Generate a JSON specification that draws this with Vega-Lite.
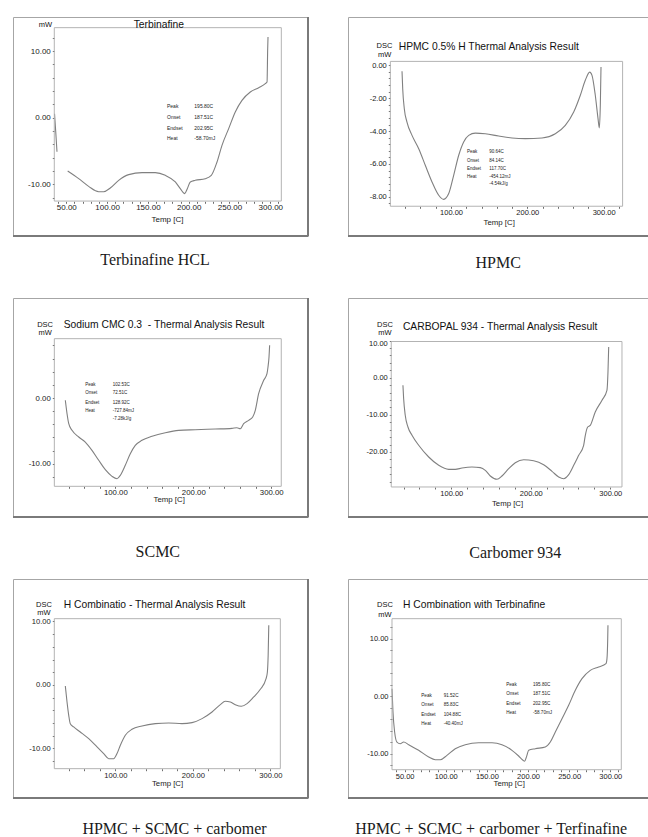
{
  "$schema": "https://vega.github.io/schema/vega-lite/v6.json",
  "background": "white",
  "padding": {"left": 11, "top": 15, "right": 0, "bottom": 0},
  "columns": 2,
  "spacing": {"row": 62, "column": 40},
  "bounds": "flush",
  "align": "each",
  "datasets": {
    "c1": [
      {"s": "a", "t": 35.6, "v": 0.6}, {"s": "a", "t": 37.0, "v": -2.0}, {"s": "a", "t": 38.6, "v": -5.1},
      {"s": "b", "t": 51.7, "v": -8.0}, {"s": "b", "t": 65.2, "v": -9.14}, {"s": "b", "t": 77.4, "v": -10.3},
      {"s": "b", "t": 89.7, "v": -11.1}, {"s": "b", "t": 95.8, "v": -11.1}, {"s": "b", "t": 103.9, "v": -10.54},
      {"s": "b", "t": 114.2, "v": -9.39}, {"s": "b", "t": 126.5, "v": -8.54}, {"s": "b", "t": 142.8, "v": -8.24},
      {"s": "b", "t": 159.1, "v": -8.24}, {"s": "b", "t": 171.3, "v": -8.64}, {"s": "b", "t": 183.6, "v": -9.64},
      {"s": "b", "t": 189.7, "v": -10.64}, {"s": "b", "t": 195.1, "v": -11.39}, {"s": "b", "t": 198.3, "v": -10.64},
      {"s": "b", "t": 202.0, "v": -9.64}, {"s": "b", "t": 208.1, "v": -9.39}, {"s": "b", "t": 220.3, "v": -9.14},
      {"s": "b", "t": 227.7, "v": -8.64}, {"s": "b", "t": 234.7, "v": -6.64}, {"s": "b", "t": 240.8, "v": -4.14},
      {"s": "b", "t": 249.0, "v": -1.64}, {"s": "b", "t": 257.1, "v": 0.86}, {"s": "b", "t": 265.3, "v": 2.6},
      {"s": "b", "t": 275.5, "v": 3.86}, {"s": "b", "t": 285.8, "v": 4.5}, {"s": "b", "t": 293.9, "v": 5.1},
      {"s": "b", "t": 296.0, "v": 5.35}, {"s": "b", "t": 296.8, "v": 10.35}, {"s": "b", "t": 297.2, "v": 12.1}
    ],
    "c2": [
      {"t": 35.8, "v": -0.36}, {"t": 36.7, "v": -1.42}, {"t": 38.8, "v": -2.64}, {"t": 42.3, "v": -3.45},
      {"t": 48.9, "v": -4.26}, {"t": 57.7, "v": -5.07}, {"t": 66.3, "v": -6.08}, {"t": 75.1, "v": -7.09},
      {"t": 83.9, "v": -7.9}, {"t": 90.4, "v": -8.15}, {"t": 97.0, "v": -7.8}, {"t": 103.5, "v": -6.69},
      {"t": 110.1, "v": -5.47}, {"t": 116.6, "v": -4.66}, {"t": 123.2, "v": -4.26}, {"t": 131.9, "v": -4.12},
      {"t": 145.0, "v": -4.16}, {"t": 162.5, "v": -4.3}, {"t": 180.0, "v": -4.42}, {"t": 197.4, "v": -4.46},
      {"t": 219.3, "v": -4.42}, {"t": 236.7, "v": -4.16}, {"t": 249.8, "v": -3.65}, {"t": 260.8, "v": -2.84},
      {"t": 269.5, "v": -1.82}, {"t": 276.0, "v": -0.91}, {"t": 281.8, "v": -0.41}, {"t": 284.8, "v": -0.61},
      {"t": 289.1, "v": -1.82}, {"t": 292.7, "v": -3.24}, {"t": 294.4, "v": -3.81}, {"t": 295.7, "v": -2.43},
      {"t": 296.6, "v": -0.1}
    ],
    "c3": [
      {"t": 35.9, "v": -0.35}, {"t": 38.1, "v": -2.39}, {"t": 40.3, "v": -3.91}, {"t": 44.5, "v": -4.92},
      {"t": 53.1, "v": -5.94}, {"t": 61.5, "v": -6.7}, {"t": 70.1, "v": -7.96}, {"t": 78.7, "v": -9.48},
      {"t": 87.2, "v": -10.91}, {"t": 95.8, "v": -11.92}, {"t": 102.2, "v": -12.28}, {"t": 106.4, "v": -11.77},
      {"t": 112.8, "v": -10.24}, {"t": 119.2, "v": -8.48}, {"t": 125.6, "v": -7.2}, {"t": 134.2, "v": -6.44},
      {"t": 147.1, "v": -5.83}, {"t": 164.1, "v": -5.28}, {"t": 181.3, "v": -4.92}, {"t": 202.6, "v": -4.82},
      {"t": 228.2, "v": -4.72}, {"t": 249.6, "v": -4.62}, {"t": 256.0, "v": -4.52}, {"t": 260.3, "v": -4.67},
      {"t": 264.6, "v": -3.91}, {"t": 271.0, "v": -3.4}, {"t": 276.2, "v": -2.89}, {"t": 279.5, "v": -1.88},
      {"t": 283.8, "v": 0.65}, {"t": 290.3, "v": 2.69}, {"t": 294.5, "v": 3.7}, {"t": 295.8, "v": 4.72},
      {"t": 297.1, "v": 6.24}, {"t": 297.9, "v": 8.02}
    ],
    "c4": [
      {"t": 39.2, "v": -2.05}, {"t": 40.1, "v": -5.65}, {"t": 42.1, "v": -10.12}, {"t": 45.5, "v": -13.27},
      {"t": 50.6, "v": -15.5}, {"t": 59.0, "v": -18.2}, {"t": 71.6, "v": -21.35}, {"t": 84.2, "v": -23.59},
      {"t": 96.7, "v": -24.67}, {"t": 105.0, "v": -24.67}, {"t": 113.5, "v": -24.31}, {"t": 126.0, "v": -24.04},
      {"t": 136.5, "v": -24.22}, {"t": 142.8, "v": -24.93}, {"t": 149.1, "v": -26.46}, {"t": 157.5, "v": -27.35},
      {"t": 163.8, "v": -26.46}, {"t": 172.2, "v": -24.49}, {"t": 180.5, "v": -22.88}, {"t": 191.1, "v": -22.07},
      {"t": 203.6, "v": -22.34}, {"t": 216.2, "v": -23.42}, {"t": 226.7, "v": -25.2}, {"t": 235.1, "v": -26.73},
      {"t": 241.4, "v": -27.19}, {"t": 247.7, "v": -26.11}, {"t": 254.0, "v": -23.59}, {"t": 260.3, "v": -20.89},
      {"t": 266.5, "v": -18.2}, {"t": 268.6, "v": -15.5}, {"t": 271.6, "v": -13.27}, {"t": 274.8, "v": -12.82},
      {"t": 281.1, "v": -9.23}, {"t": 289.6, "v": -6.08}, {"t": 295.8, "v": -3.39}, {"t": 297.1, "v": 1.53},
      {"t": 298.0, "v": 8.26}
    ],
    "c5": [
      {"t": 35.5, "v": -0.16}, {"t": 37.7, "v": -2.68}, {"t": 39.9, "v": -4.78}, {"t": 41.9, "v": -6.09},
      {"t": 46.3, "v": -6.61}, {"t": 54.8, "v": -7.4}, {"t": 65.7, "v": -8.46}, {"t": 76.4, "v": -9.76},
      {"t": 85.0, "v": -10.81}, {"t": 91.5, "v": -11.61}, {"t": 97.9, "v": -11.61}, {"t": 102.2, "v": -10.81},
      {"t": 106.5, "v": -9.5}, {"t": 112.9, "v": -7.92}, {"t": 121.5, "v": -6.98}, {"t": 134.5, "v": -6.46},
      {"t": 151.6, "v": -6.09}, {"t": 168.9, "v": -5.98}, {"t": 186.0, "v": -6.09}, {"t": 199.0, "v": -5.93},
      {"t": 211.9, "v": -5.3}, {"t": 224.8, "v": -4.25}, {"t": 235.5, "v": -3.1}, {"t": 241.9, "v": -2.57},
      {"t": 248.4, "v": -2.68}, {"t": 254.8, "v": -3.1}, {"t": 262.6, "v": -3.36}, {"t": 270.0, "v": -2.94},
      {"t": 278.6, "v": -1.89}, {"t": 287.1, "v": -0.68}, {"t": 294.5, "v": 0.99}, {"t": 296.2, "v": 2.05},
      {"t": 297.2, "v": 4.67}, {"t": 298.0, "v": 9.4}
    ],
    "c6": [
      {"t": 34.6, "v": 1.3}, {"t": 35.8, "v": -2.75}, {"t": 37.8, "v": -6.23}, {"t": 40.6, "v": -7.97},
      {"t": 44.6, "v": -8.26}, {"t": 48.8, "v": -7.97}, {"t": 54.9, "v": -8.43}, {"t": 67.0, "v": -9.41},
      {"t": 79.2, "v": -10.57}, {"t": 87.2, "v": -11.04}, {"t": 93.3, "v": -11.04}, {"t": 101.4, "v": -10.28},
      {"t": 111.5, "v": -9.13}, {"t": 123.7, "v": -8.43}, {"t": 140.0, "v": -8.09}, {"t": 156.2, "v": -8.09},
      {"t": 168.3, "v": -8.43}, {"t": 180.5, "v": -9.41}, {"t": 188.6, "v": -10.4}, {"t": 193.5, "v": -11.1},
      {"t": 195.8, "v": -11.3}, {"t": 198.2, "v": -10.5}, {"t": 200.8, "v": -9.41}, {"t": 208.8, "v": -9.13},
      {"t": 221.0, "v": -8.83}, {"t": 227.1, "v": -7.97}, {"t": 233.2, "v": -6.23}, {"t": 241.3, "v": -3.91},
      {"t": 249.4, "v": -1.58}, {"t": 257.5, "v": 1.03}, {"t": 265.6, "v": 3.05}, {"t": 275.7, "v": 4.5},
      {"t": 285.9, "v": 5.08}, {"t": 294.8, "v": 5.66}, {"t": 296.0, "v": 6.53}, {"t": 296.9, "v": 10.0},
      {"t": 297.2, "v": 12.33}
    ],
    "txt": [
      {"p": 1, "k": "title", "t": 132.6, "v": 13.4, "text": "Terbinafine"},
      {"p": 1, "k": "unit", "t": 24.3, "v": 13.94, "text": "mW"},
      {"p": 1, "k": "note", "t": 173.4, "v": 1.71, "text": "Peak"},
      {"p": 1, "k": "note", "t": 173.4, "v": 0.1, "text": "Onset"},
      {"p": 1, "k": "note", "t": 173.4, "v": -1.5, "text": "Endset"},
      {"p": 1, "k": "note", "t": 173.4, "v": -3.04, "text": "Heat"},
      {"p": 1, "k": "note", "t": 206.9, "v": 1.71, "text": "195.80C"},
      {"p": 1, "k": "note", "t": 206.9, "v": 0.1, "text": "187.51C"},
      {"p": 1, "k": "note", "t": 206.9, "v": -1.5, "text": "202.95C"},
      {"p": 1, "k": "note", "t": 206.9, "v": -3.04, "text": "-58.70mJ"},
      {"p": 1, "k": "cap", "t": 158.7, "v": -22.08, "text": "Terbinafine HCL"},

      {"p": 2, "k": "title", "t": 31.5, "v": 0.91, "text": "HPMC 0.5% H Thermal Analysis Result"},
      {"p": 2, "k": "unit", "t": 12.8, "v": 1.17, "text": "DSC"},
      {"p": 2, "k": "unit", "t": 13.1, "v": 0.64, "text": "mW"},
      {"p": 2, "k": "note", "t": 121.0, "v": -5.27, "text": "Peak"},
      {"p": 2, "k": "note", "t": 121.0, "v": -5.8, "text": "Onset"},
      {"p": 2, "k": "note", "t": 121.0, "v": -6.29, "text": "Endset"},
      {"p": 2, "k": "note", "t": 121.0, "v": -6.79, "text": "Heat"},
      {"p": 2, "k": "note", "t": 150.2, "v": -5.27, "text": "90.64C"},
      {"p": 2, "k": "note", "t": 150.2, "v": -5.8, "text": "84.14C"},
      {"p": 2, "k": "note", "t": 150.2, "v": -6.29, "text": "117.70C"},
      {"p": 2, "k": "note", "t": 150.2, "v": -6.79, "text": "-454.12mJ"},
      {"p": 2, "k": "note", "t": 150.2, "v": -7.23, "text": "-4.54kJ/g"},
      {"p": 2, "k": "cap", "t": 161.9, "v": -12.3, "text": "HPMC"},

      {"p": 3, "k": "title", "t": 33.8, "v": 10.65, "text": "Sodium CMC 0.3 \u00a0- Thermal Analysis Result"},
      {"p": 3, "k": "unit", "t": 9.9, "v": 11.16, "text": "DSC"},
      {"p": 3, "k": "unit", "t": 9.9, "v": 9.89, "text": "mW"},
      {"p": 3, "k": "note", "t": 61.5, "v": 2.02, "text": "Peak"},
      {"p": 3, "k": "note", "t": 61.5, "v": 0.81, "text": "Onset"},
      {"p": 3, "k": "note", "t": 61.5, "v": -0.72, "text": "Endset"},
      {"p": 3, "k": "note", "t": 61.5, "v": -2.02, "text": "Heat"},
      {"p": 3, "k": "note", "t": 96.7, "v": 2.02, "text": "102.53C"},
      {"p": 3, "k": "note", "t": 96.7, "v": 0.81, "text": "72.51C"},
      {"p": 3, "k": "note", "t": 96.7, "v": -0.72, "text": "128.92C"},
      {"p": 3, "k": "note", "t": 96.7, "v": -2.02, "text": "-727.84mJ"},
      {"p": 3, "k": "note", "t": 96.7, "v": -3.15, "text": "-7.28kJ/g"},
      {"p": 3, "k": "cap", "t": 154.5, "v": -24.2, "text": "SCMC"},

      {"p": 4, "k": "title", "t": 39.2, "v": 12.92, "text": "CARBOPAL 934 - Thermal Analysis Result"},
      {"p": 4, "k": "unit", "t": 16.6, "v": 14.1, "text": "DSC"},
      {"p": 4, "k": "unit", "t": 16.6, "v": 11.9, "text": "mW"},
      {"p": 4, "k": "cap", "t": 180.5, "v": -48.6, "text": "Carbomer 934"},

      {"p": 5, "k": "title", "t": 33.4, "v": 12.13, "text": "H Combinatio - Thermal Analysis Result"},
      {"p": 5, "k": "unit", "t": 8.0, "v": 12.55, "text": "DSC"},
      {"p": 5, "k": "unit", "t": 8.0, "v": 11.39, "text": "mW"},
      {"p": 5, "k": "cap", "t": 176.4, "v": -23.4, "text": "HPMC + SCMC + carbomer"},

      {"p": 6, "k": "title", "t": 47.9, "v": 15.34, "text": "H Combination with Terbinafine"},
      {"p": 6, "k": "unit", "t": 26.0, "v": 15.9, "text": "DSC"},
      {"p": 6, "k": "unit", "t": 26.0, "v": 14.17, "text": "mW"},
      {"p": 6, "k": "note", "t": 70.2, "v": -0.02, "text": "Peak"},
      {"p": 6, "k": "note", "t": 70.2, "v": -1.58, "text": "Onset"},
      {"p": 6, "k": "note", "t": 70.2, "v": -3.22, "text": "Endset"},
      {"p": 6, "k": "note", "t": 70.2, "v": -4.78, "text": "Heat"},
      {"p": 6, "k": "note", "t": 97.4, "v": -0.02, "text": "91.52C"},
      {"p": 6, "k": "note", "t": 97.4, "v": -1.58, "text": "85.83C"},
      {"p": 6, "k": "note", "t": 97.4, "v": -3.22, "text": "104.88C"},
      {"p": 6, "k": "note", "t": 97.4, "v": -4.78, "text": "-40.40mJ"},
      {"p": 6, "k": "note", "t": 173.5, "v": 1.9, "text": "Peak"},
      {"p": 6, "k": "note", "t": 173.5, "v": 0.33, "text": "Onset"},
      {"p": 6, "k": "note", "t": 173.5, "v": -1.3, "text": "Endset"},
      {"p": 6, "k": "note", "t": 173.5, "v": -2.87, "text": "Heat"},
      {"p": 6, "k": "note", "t": 206.0, "v": 1.9, "text": "195.80C"},
      {"p": 6, "k": "note", "t": 206.0, "v": 0.33, "text": "187.51C"},
      {"p": 6, "k": "note", "t": 206.0, "v": -1.3, "text": "202.95C"},
      {"p": 6, "k": "note", "t": 206.0, "v": -2.87, "text": "-58.70mJ"},
      {"p": 6, "k": "cap", "t": 155.2, "v": -23.9, "text": "HPMC + SCMC + carbomer + Terfinafine"}
    ]
  },
  "concat": [
    {
      "width": 295, "height": 219,
      "layer": [
        {"data": {"name": "c1"}, "mark": {"type": "line", "interpolate": "monotone", "stroke": "#808080", "strokeWidth": 1.1},
         "encoding": {
           "x": {"field": "t", "type": "quantitative", "scale": {"domain": [-15.3, 346.2], "nice": false, "zero": false},
                 "axis": {"values": [40, 50, 60, 70, 80, 90, 100, 110, 120, 130, 140, 150, 160, 170, 180, 190, 200, 210, 220, 230, 240, 250, 260, 270, 280, 290, 300, 310],
                          "tickCount": 200, "labelExpr": "datum.value % 50 == 0 ? format(datum.value, '.2f') : ''", "labelOverlap": false, "offset": -34.7, "labelFontSize": 8, "title": "Temp [C]", "titleFontSize": 8, "titleX": 154, "titleY": 18.4}},
           "y": {"field": "v", "type": "quantitative", "scale": {"domain": [-17.74, 15.1], "nice": false, "zero": false},
                 "axis": {"values": [-12, -10, -8, -6, -4, -2, 0, 2, 4, 6, 8, 10, 12],
                          "tickCount": 200, "labelExpr": "datum.value % 10 == 0 ? (datum.value < 0 ? '-' : '') + format(abs(datum.value), '.2f') : ''", "labelOverlap": false, "offset": -41.3, "labelFontSize": 8, "title": null}},
           "detail": {"field": "s"}}},
        {"data": {"values": [{}]}, "mark": {"type": "rect", "fill": "transparent", "stroke": "#b3b3b3", "strokeWidth": 1},
         "encoding": {"x": {"datum": 35.3, "type": "quantitative"}, "x2": {"datum": 313.5}, "y": {"datum": -12.5, "type": "quantitative"}, "y2": {"datum": 13.5}}},
        {"data": {"values": [{}]}, "mark": {"type": "rule", "stroke": "#7a7a7a", "strokeWidth": 2},
         "encoding": {"x": {"datum": 346.2, "type": "quantitative"}, "y": {"datum": -17.74, "type": "quantitative"}, "y2": {"datum": 15.1}}},
        {"data": {"values": [{}]}, "mark": {"type": "rule", "stroke": "#7a7a7a", "strokeWidth": 2},
         "encoding": {"x": {"datum": -15.3, "type": "quantitative"}, "x2": {"datum": 346.2}, "y": {"datum": -17.74, "type": "quantitative"}}},
        {"data": {"name": "txt"}, "transform": [{"filter": "datum.p == 1 && datum.k == 'title'"}],
         "mark": {"type": "text", "align": "left", "baseline": "alphabetic", "fontSize": 10.3, "fill": "#111111"},
         "encoding": {"x": {"field": "t", "type": "quantitative"}, "y": {"field": "v", "type": "quantitative"}, "text": {"field": "text"}}},
        {"data": {"name": "txt"}, "transform": [{"filter": "datum.p == 1 && datum.k == 'unit'"}],
         "mark": {"type": "text", "align": "center", "baseline": "middle", "fontSize": 7.5, "fill": "#111111"},
         "encoding": {"x": {"field": "t", "type": "quantitative"}, "y": {"field": "v", "type": "quantitative"}, "text": {"field": "text"}}},
        {"data": {"name": "txt"}, "transform": [{"filter": "datum.p == 1 && datum.k == 'note'"}],
         "mark": {"type": "text", "align": "left", "baseline": "middle", "fontSize": 5, "fill": "#222222"},
         "encoding": {"x": {"field": "t", "type": "quantitative"}, "y": {"field": "v", "type": "quantitative"}, "text": {"field": "text"}}},
        {"data": {"name": "txt"}, "transform": [{"filter": "datum.p == 1 && datum.k == 'cap'"}],
         "mark": {"type": "text", "align": "center", "baseline": "alphabetic", "fontSize": 16, "font": "Liberation Serif", "fill": "#1a1a1a"},
         "encoding": {"x": {"field": "t", "type": "quantitative"}, "y": {"field": "v", "type": "quantitative"}, "text": {"field": "text"}}}
      ]
    },
    {
      "width": 301, "height": 219,
      "layer": [
        {"data": {"name": "c2"}, "mark": {"type": "line", "interpolate": "monotone", "stroke": "#808080", "strokeWidth": 1.1},
         "encoding": {
           "x": {"field": "t", "type": "quantitative", "scale": {"domain": [-35.0, 359.5], "nice": false, "zero": false},
                 "axis": {"values": [40, 60, 80, 100, 120, 140, 160, 180, 200, 220, 240, 260, 280, 300, 320],
                          "tickCount": 200, "labelExpr": "datum.value % 100 == 0 ? format(datum.value, '.2f') : ''", "labelOverlap": false, "offset": -29.7, "labelFontSize": 7.5, "title": "Temp [C]", "titleFontSize": 7.8, "titleX": 150.7, "titleY": 15.7}},
           "y": {"field": "v", "type": "quantitative", "scale": {"domain": [-10.38, 2.94], "nice": false, "zero": false},
                 "axis": {"values": [-8.4, -8, -7.6, -7.2, -6.8, -6.4, -6, -5.6, -5.2, -4.8, -4.4, -4, -3.6, -3.2, -2.8, -2.4, -2, -1.6, -1.2, -0.8, -0.4, 0],
                          "tickCount": 200, "labelExpr": "datum.value % 2 == 0 ? (datum.value < 0 ? '-' : '') + format(abs(datum.value), '.2f') : ''", "labelOverlap": false, "offset": -42.3, "labelFontSize": 7.5, "title": null}}}},
        {"data": {"values": [{}]}, "mark": {"type": "rect", "fill": "transparent", "stroke": "#b3b3b3", "strokeWidth": 1},
         "encoding": {"x": {"datum": 20.5, "type": "quantitative"}, "x2": {"datum": 324.9}, "y": {"datum": -8.57, "type": "quantitative"}, "y2": {"datum": 0.24}}},
        {"data": {"values": [{}]}, "mark": {"type": "rule", "stroke": "#7a7a7a", "strokeWidth": 2},
         "encoding": {"x": {"datum": -35.0, "type": "quantitative"}, "x2": {"datum": 359.5}, "y": {"datum": -10.38, "type": "quantitative"}}},
        {"data": {"name": "txt"}, "transform": [{"filter": "datum.p == 2 && datum.k == 'title'"}],
         "mark": {"type": "text", "align": "left", "baseline": "alphabetic", "fontSize": 10.3, "fill": "#111111"},
         "encoding": {"x": {"field": "t", "type": "quantitative"}, "y": {"field": "v", "type": "quantitative"}, "text": {"field": "text"}}},
        {"data": {"name": "txt"}, "transform": [{"filter": "datum.p == 2 && datum.k == 'unit'"}],
         "mark": {"type": "text", "align": "center", "baseline": "middle", "fontSize": 7.5, "fill": "#111111"},
         "encoding": {"x": {"field": "t", "type": "quantitative"}, "y": {"field": "v", "type": "quantitative"}, "text": {"field": "text"}}},
        {"data": {"name": "txt"}, "transform": [{"filter": "datum.p == 2 && datum.k == 'note'"}],
         "mark": {"type": "text", "align": "left", "baseline": "middle", "fontSize": 4.5, "fill": "#222222"},
         "encoding": {"x": {"field": "t", "type": "quantitative"}, "y": {"field": "v", "type": "quantitative"}, "text": {"field": "text"}}},
        {"data": {"name": "txt"}, "transform": [{"filter": "datum.p == 2 && datum.k == 'cap'"}],
         "mark": {"type": "text", "align": "center", "baseline": "alphabetic", "fontSize": 16, "font": "Liberation Serif", "fill": "#1a1a1a"},
         "encoding": {"x": {"field": "t", "type": "quantitative"}, "y": {"field": "v", "type": "quantitative"}, "text": {"field": "text"}}}
      ]
    },
    {
      "width": 295, "height": 219,
      "layer": [
        {"data": {"name": "c3"}, "mark": {"type": "line", "interpolate": "monotone", "stroke": "#808080", "strokeWidth": 1.1},
         "encoding": {
           "x": {"field": "t", "type": "quantitative", "scale": {"domain": [-31.2, 347.1], "nice": false, "zero": false},
                 "axis": {"values": [40, 60, 80, 100, 120, 140, 160, 180, 200, 220, 240, 260, 280, 300],
                          "tickCount": 200, "labelExpr": "datum.value % 100 == 0 ? format(datum.value, '.2f') : ''", "labelOverlap": false, "offset": -30.7, "labelFontSize": 7.8, "title": "Temp [C]", "titleFontSize": 7.8, "titleX": 155.7, "titleY": 13.5}},
           "y": {"field": "v", "type": "quantitative", "scale": {"domain": [-18.11, 15.22], "nice": false, "zero": false},
                 "axis": {"values": [-12, -10, -8, -6, -4, -2, 0, 2, 4, 6, 8],
                          "tickCount": 200, "labelExpr": "datum.value % 10 == 0 ? (datum.value < 0 ? '-' : '') + format(abs(datum.value), '.2f') : ''", "labelOverlap": false, "offset": -41.3, "labelFontSize": 7.8, "title": null}}}},
        {"data": {"values": [{}]}, "mark": {"type": "rect", "fill": "transparent", "stroke": "#b3b3b3", "strokeWidth": 1},
         "encoding": {"x": {"datum": 21.8, "type": "quantitative"}, "x2": {"datum": 312.8}, "y": {"datum": -13.44, "type": "quantitative"}, "y2": {"datum": 9.03}}},
        {"data": {"values": [{}]}, "mark": {"type": "rule", "stroke": "#7a7a7a", "strokeWidth": 2},
         "encoding": {"x": {"datum": 347.1, "type": "quantitative"}, "y": {"datum": -18.11, "type": "quantitative"}, "y2": {"datum": 15.22}}},
        {"data": {"values": [{}]}, "mark": {"type": "rule", "stroke": "#7a7a7a", "strokeWidth": 2},
         "encoding": {"x": {"datum": -31.2, "type": "quantitative"}, "x2": {"datum": 347.1}, "y": {"datum": -18.11, "type": "quantitative"}}},
        {"data": {"name": "txt"}, "transform": [{"filter": "datum.p == 3 && datum.k == 'title'"}],
         "mark": {"type": "text", "align": "left", "baseline": "alphabetic", "fontSize": 10.3, "fill": "#111111"},
         "encoding": {"x": {"field": "t", "type": "quantitative"}, "y": {"field": "v", "type": "quantitative"}, "text": {"field": "text"}}},
        {"data": {"name": "txt"}, "transform": [{"filter": "datum.p == 3 && datum.k == 'unit'"}],
         "mark": {"type": "text", "align": "center", "baseline": "middle", "fontSize": 7.5, "fill": "#111111"},
         "encoding": {"x": {"field": "t", "type": "quantitative"}, "y": {"field": "v", "type": "quantitative"}, "text": {"field": "text"}}},
        {"data": {"name": "txt"}, "transform": [{"filter": "datum.p == 3 && datum.k == 'note'"}],
         "mark": {"type": "text", "align": "left", "baseline": "middle", "fontSize": 4.5, "fill": "#222222"},
         "encoding": {"x": {"field": "t", "type": "quantitative"}, "y": {"field": "v", "type": "quantitative"}, "text": {"field": "text"}}},
        {"data": {"name": "txt"}, "transform": [{"filter": "datum.p == 3 && datum.k == 'cap'"}],
         "mark": {"type": "text", "align": "center", "baseline": "alphabetic", "fontSize": 16, "font": "Liberation Serif", "fill": "#1a1a1a"},
         "encoding": {"x": {"field": "t", "type": "quantitative"}, "y": {"field": "v", "type": "quantitative"}, "text": {"field": "text"}}}
      ]
    },
    {
      "width": 301, "height": 219,
      "layer": [
        {"data": {"name": "c4"}, "mark": {"type": "line", "interpolate": "monotone", "stroke": "#808080", "strokeWidth": 1.1},
         "encoding": {
           "x": {"field": "t", "type": "quantitative", "scale": {"domain": [-29.9, 348.7], "nice": false, "zero": false},
                 "axis": {"values": [40, 60, 80, 100, 120, 140, 160, 180, 200, 220, 240, 260, 280, 300],
                          "tickCount": 200, "labelExpr": "datum.value % 100 == 0 ? format(datum.value, '.2f') : ''", "labelOverlap": false, "offset": -30, "labelFontSize": 7.5, "title": "Temp [C]", "titleFontSize": 7.8, "titleX": 159, "titleY": 16}},
           "y": {"field": "v", "type": "quantitative", "scale": {"domain": [-37.5, 21.45], "nice": false, "zero": false},
                 "axis": {"values": [-28, -26, -24, -22, -20, -18, -16, -14, -12, -10, -8, -6, -4, -2, 0, 2, 4, 6, 8, 10],
                          "tickCount": 200, "labelExpr": "datum.value % 10 == 0 ? (datum.value < 0 ? '-' : '') + format(abs(datum.value), '.2f') : ''",
                          "labelOffset": {"condition": {"test": "datum.value == 10", "value": 3}, "value": 0},
                          "labelOverlap": false, "offset": -43.3, "labelFontSize": 7.5, "title": null}}}},
        {"data": {"values": [{}]}, "mark": {"type": "rect", "fill": "transparent", "stroke": "#b3b3b3", "strokeWidth": 1},
         "encoding": {"x": {"datum": 24.5, "type": "quantitative"}, "x2": {"datum": 314.7}, "y": {"datum": -29.42, "type": "quantitative"}, "y2": {"datum": 9.74}}},
        {"data": {"values": [{}]}, "mark": {"type": "rule", "stroke": "#7a7a7a", "strokeWidth": 2},
         "encoding": {"x": {"datum": -29.9, "type": "quantitative"}, "x2": {"datum": 348.7}, "y": {"datum": -37.5, "type": "quantitative"}}},
        {"data": {"name": "txt"}, "transform": [{"filter": "datum.p == 4 && datum.k == 'title'"}],
         "mark": {"type": "text", "align": "left", "baseline": "alphabetic", "fontSize": 10.3, "fill": "#111111"},
         "encoding": {"x": {"field": "t", "type": "quantitative"}, "y": {"field": "v", "type": "quantitative"}, "text": {"field": "text"}}},
        {"data": {"name": "txt"}, "transform": [{"filter": "datum.p == 4 && datum.k == 'unit'"}],
         "mark": {"type": "text", "align": "center", "baseline": "middle", "fontSize": 7.5, "fill": "#111111"},
         "encoding": {"x": {"field": "t", "type": "quantitative"}, "y": {"field": "v", "type": "quantitative"}, "text": {"field": "text"}}},
        {"data": {"name": "txt"}, "transform": [{"filter": "datum.p == 4 && datum.k == 'cap'"}],
         "mark": {"type": "text", "align": "center", "baseline": "alphabetic", "fontSize": 16, "font": "Liberation Serif", "fill": "#1a1a1a"},
         "encoding": {"x": {"field": "t", "type": "quantitative"}, "y": {"field": "v", "type": "quantitative"}, "text": {"field": "text"}}}
      ]
    },
    {
      "width": 295, "height": 219,
      "layer": [
        {"data": {"name": "c5"}, "mark": {"type": "line", "interpolate": "monotone", "stroke": "#808080", "strokeWidth": 1.1},
         "encoding": {
           "x": {"field": "t", "type": "quantitative", "scale": {"domain": [-32.0, 348.6], "nice": false, "zero": false},
                 "axis": {"values": [40, 60, 80, 100, 120, 140, 160, 180, 200, 220, 240, 260, 280, 300],
                          "tickCount": 200, "labelExpr": "datum.value % 100 == 0 ? format(datum.value, '.2f') : ''", "labelOverlap": false, "offset": -29.3, "labelFontSize": 7.6, "title": "Temp [C]", "titleFontSize": 7.8, "titleX": 154, "titleY": 14.3}},
           "y": {"field": "v", "type": "quantitative", "scale": {"domain": [-17.8, 16.69], "nice": false, "zero": false},
                 "axis": {"values": [-12, -10, -8, -6, -4, -2, 0, 2, 4, 6, 8, 10],
                          "tickCount": 200, "labelExpr": "datum.value % 10 == 0 ? (datum.value < 0 ? '-' : '') + format(abs(datum.value), '.2f') : ''", "labelOverlap": false, "offset": -41.3, "labelFontSize": 7.6, "title": null}}}},
        {"data": {"values": [{}]}, "mark": {"type": "rect", "fill": "transparent", "stroke": "#b3b3b3", "strokeWidth": 1},
         "encoding": {"x": {"datum": 21.3, "type": "quantitative"}, "x2": {"datum": 312.9}, "y": {"datum": -13.18, "type": "quantitative"}, "y2": {"datum": 10.44}}},
        {"data": {"values": [{}]}, "mark": {"type": "rule", "stroke": "#7a7a7a", "strokeWidth": 2},
         "encoding": {"x": {"datum": 348.6, "type": "quantitative"}, "y": {"datum": -17.8, "type": "quantitative"}, "y2": {"datum": 16.69}}},
        {"data": {"values": [{}]}, "mark": {"type": "rule", "stroke": "#7a7a7a", "strokeWidth": 2},
         "encoding": {"x": {"datum": -32.0, "type": "quantitative"}, "x2": {"datum": 348.6}, "y": {"datum": -17.8, "type": "quantitative"}}},
        {"data": {"name": "txt"}, "transform": [{"filter": "datum.p == 5 && datum.k == 'title'"}],
         "mark": {"type": "text", "align": "left", "baseline": "alphabetic", "fontSize": 10.3, "fill": "#111111"},
         "encoding": {"x": {"field": "t", "type": "quantitative"}, "y": {"field": "v", "type": "quantitative"}, "text": {"field": "text"}}},
        {"data": {"name": "txt"}, "transform": [{"filter": "datum.p == 5 && datum.k == 'unit'"}],
         "mark": {"type": "text", "align": "center", "baseline": "middle", "fontSize": 7.5, "fill": "#111111"},
         "encoding": {"x": {"field": "t", "type": "quantitative"}, "y": {"field": "v", "type": "quantitative"}, "text": {"field": "text"}}},
        {"data": {"name": "txt"}, "transform": [{"filter": "datum.p == 5 && datum.k == 'cap'"}],
         "mark": {"type": "text", "align": "center", "baseline": "alphabetic", "fontSize": 16, "font": "Liberation Serif", "fill": "#1a1a1a"},
         "encoding": {"x": {"field": "t", "type": "quantitative"}, "y": {"field": "v", "type": "quantitative"}, "text": {"field": "text"}}}
      ]
    },
    {
      "width": 301, "height": 219,
      "layer": [
        {"data": {"name": "c6"}, "mark": {"type": "line", "interpolate": "monotone", "stroke": "#808080", "strokeWidth": 1.1},
         "encoding": {
           "x": {"field": "t", "type": "quantitative", "scale": {"domain": [-18.9, 347.1], "nice": false, "zero": false},
                 "axis": {"values": [40, 50, 60, 70, 80, 90, 100, 110, 120, 130, 140, 150, 160, 170, 180, 190, 200, 210, 220, 230, 240, 250, 260, 270, 280, 290, 300, 310],
                          "tickCount": 200, "labelExpr": "datum.value % 50 == 0 ? format(datum.value, '.2f') : ''", "labelOverlap": false, "offset": -28.3, "labelFontSize": 7.5, "title": "Temp [C]", "titleFontSize": 7.8, "titleX": 160.7, "titleY": 14}},
           "y": {"field": "v", "type": "quantitative", "scale": {"domain": [-17.7, 20.38], "nice": false, "zero": false},
                 "axis": {"values": [-12, -10, -8, -6, -4, -2, 0, 2, 4, 6, 8, 10, 12],
                          "tickCount": 200, "labelExpr": "datum.value % 10 == 0 ? (datum.value < 0 ? '-' : '') + format(abs(datum.value), '.2f') : ''", "labelOverlap": false, "offset": -44, "labelFontSize": 7.5, "title": null}}}},
        {"data": {"values": [{}]}, "mark": {"type": "rect", "fill": "transparent", "stroke": "#b3b3b3", "strokeWidth": 1},
         "encoding": {"x": {"datum": 34.6, "type": "quantitative"}, "x2": {"datum": 313.4}, "y": {"datum": -12.78, "type": "quantitative"}, "y2": {"datum": 13.48}}},
        {"data": {"values": [{}]}, "mark": {"type": "rule", "stroke": "#7a7a7a", "strokeWidth": 2},
         "encoding": {"x": {"datum": -18.9, "type": "quantitative"}, "x2": {"datum": 347.1}, "y": {"datum": -17.7, "type": "quantitative"}}},
        {"data": {"name": "txt"}, "transform": [{"filter": "datum.p == 6 && datum.k == 'title'"}],
         "mark": {"type": "text", "align": "left", "baseline": "alphabetic", "fontSize": 10.3, "fill": "#111111"},
         "encoding": {"x": {"field": "t", "type": "quantitative"}, "y": {"field": "v", "type": "quantitative"}, "text": {"field": "text"}}},
        {"data": {"name": "txt"}, "transform": [{"filter": "datum.p == 6 && datum.k == 'unit'"}],
         "mark": {"type": "text", "align": "center", "baseline": "middle", "fontSize": 7.5, "fill": "#111111"},
         "encoding": {"x": {"field": "t", "type": "quantitative"}, "y": {"field": "v", "type": "quantitative"}, "text": {"field": "text"}}},
        {"data": {"name": "txt"}, "transform": [{"filter": "datum.p == 6 && datum.k == 'note'"}],
         "mark": {"type": "text", "align": "left", "baseline": "middle", "fontSize": 4.6, "fill": "#222222"},
         "encoding": {"x": {"field": "t", "type": "quantitative"}, "y": {"field": "v", "type": "quantitative"}, "text": {"field": "text"}}},
        {"data": {"name": "txt"}, "transform": [{"filter": "datum.p == 6 && datum.k == 'cap'"}],
         "mark": {"type": "text", "align": "center", "baseline": "alphabetic", "fontSize": 16, "font": "Liberation Serif", "fill": "#1a1a1a"},
         "encoding": {"x": {"field": "t", "type": "quantitative"}, "y": {"field": "v", "type": "quantitative"}, "text": {"field": "text"}}}
      ]
    }
  ],
  "config": {
    "view": {"stroke": "#a6a6a6", "strokeWidth": 1},
    "font": "Liberation Sans",
    "axis": {
      "domain": false, "grid": false, "tickSize": 2, "tickColor": "#6e6e6e", "tickWidth": 1,
      "labelColor": "#1a1a1a", "labelFont": "Liberation Sans", "titleFont": "Liberation Sans",
      "titleFontWeight": "normal", "titleColor": "#1a1a1a",
      "labelFlush": false, "labelOverlap": false, "labelBound": false
    },
    "axisX": {"labelPadding": 0.5, "titleBaseline": "middle", "titleAlign": "center"},
    "axisY": {"labelPadding": 2}
  }
}
